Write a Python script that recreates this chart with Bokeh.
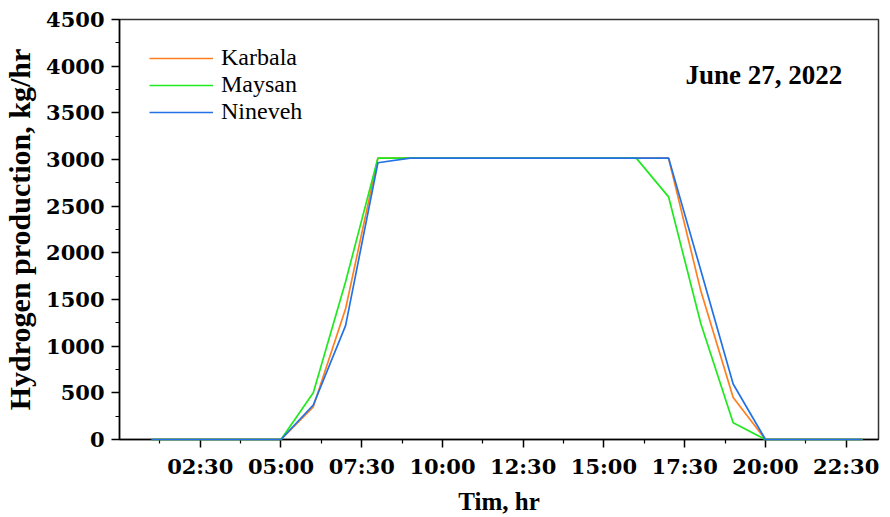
from bokeh.plotting import figure
from bokeh.models import (FixedTicker, Legend, LegendItem, Label, Range1d, ColumnDataSource)
from bokeh.embed import file_html
from bokeh.resources import INLINE

# ---- data ----
hours = [1, 2, 3, 4, 5, 6, 7, 8, 9, 10, 11, 12, 13, 14, 15, 16, 17, 18, 19, 20, 21, 22, 23]
karbala = [0, 0, 0, 0, 0, 350, 1400, 3015, 3015, 3015, 3015, 3015, 3015, 3015, 3015, 3015, 3015, 1590, 450, 0, 0, 0, 0]
maysan = [0, 0, 0, 0, 0, 500, 1690, 3015, 3015, 3015, 3015, 3015, 3015, 3015, 3015, 3015, 2600, 1240, 180, 0, 0, 0, 0]
nineveh = [0, 0, 0, 0, 0, 370, 1220, 2965, 3015, 3015, 3015, 3015, 3015, 3015, 3015, 3015, 3015, 1810, 595, 0, 0, 0, 0]

x_ticks = [2.5, 5.0, 7.5, 10.0, 12.5, 15.0, 17.5, 20.0, 22.5]
x_tick_labels = ["02:30", "05:00", "07:30", "10:00", "12:30", "15:00", "17:30", "20:00", "22:30"]
x_minor = [1.25, 3.75, 6.25, 8.75, 11.25, 13.75, 16.25, 18.75, 21.25]
y_ticks = [0, 500, 1000, 1500, 2000, 2500, 3000, 3500, 4000, 4500]
y_minor = [250, 750, 1250, 1750, 2250, 2750, 3250, 3750, 4250]

series_names = ["Karbala", "Maysan", "Nineveh"]
series_cols = ["karbala", "maysan", "nineveh"]
series_colors = ["#FF7F1E", "#1EEA1E", "#2272E6"]

date_text = "June 27, 2022"
x_title = "Tim, hr"
y_title = "Hydrogen production, kg/hr"

# ---- figure ----
p = figure(width=874, height=508, output_backend="svg", toolbar_location=None,
           x_range=Range1d(0, 23.5), y_range=Range1d(0, 4500),
           frame_width=759, frame_height=420,
           min_border_left=113, min_border_right=2, min_border_top=19, min_border_bottom=60)
p.grid.visible = False
p.outline_line_color = "#333333"
p.outline_line_width = 1.5
p.background_fill_color = "white"
p.border_fill_color = "white"

src = ColumnDataSource(dict(h=hours, karbala=karbala, maysan=maysan, nineveh=nineveh))
renderers = []
for col, color in zip(series_cols, series_colors):
    r = p.line("h", col, source=src, line_color=color, line_width=1.7, level="annotation")
    renderers.append(r)

tick_font = "DejaVu Serif"
for ax in (p.xaxis[0], p.yaxis[0]):
    ax.axis_line_color = "black"
    ax.axis_line_width = 1.5
    ax.major_tick_line_color = "black"
    ax.major_tick_line_width = 1.5
    ax.minor_tick_line_color = "black"
    ax.minor_tick_line_width = 1.2
    ax.major_tick_out = 8
    ax.major_tick_in = 0
    ax.minor_tick_out = 4
    ax.minor_tick_in = 0
    ax.major_label_text_font = tick_font
    ax.major_label_text_font_style = "bold"
    ax.major_label_text_font_size = "21px"
    ax.major_label_text_color = "black"
    ax.axis_label_text_font = "Liberation Serif"
    ax.axis_label_text_font_style = "bold"
    ax.axis_label_text_color = "black"

p.xaxis[0].ticker = FixedTicker(ticks=x_ticks, minor_ticks=x_minor)
p.xaxis[0].major_label_overrides = {t: l for t, l in zip(x_ticks, x_tick_labels)}
p.xaxis[0].major_label_standoff = 6
p.xaxis[0].axis_label = x_title
p.xaxis[0].axis_label_text_font_size = "25px"
p.xaxis[0].axis_label_standoff = 6

p.yaxis[0].ticker = FixedTicker(ticks=y_ticks, minor_ticks=y_minor)
p.yaxis[0].major_label_overrides = {t: str(t) for t in y_ticks}
p.yaxis[0].major_label_standoff = 7
p.yaxis[0].axis_label = y_title
p.yaxis[0].axis_label_text_font_size = "30px"
p.yaxis[0].axis_label_standoff = 7

legend = Legend(items=[LegendItem(label=n, renderers=[r]) for n, r in zip(series_names, renderers)])
legend.location = (30, 314)
legend.border_line_color = None
legend.background_fill_alpha = 0
legend.label_text_font = "Liberation Serif"
legend.label_text_font_size = "24px"
legend.label_text_color = "black"
legend.glyph_width = 64
legend.glyph_height = 20
legend.label_standoff = 8
legend.label_height = 20
legend.spacing = 0
legend.padding = 0
legend.margin = 0
p.add_layout(legend)

p.add_layout(Label(x=19.95, y=3910, text=date_text, text_align="center", text_baseline="middle",
                   text_font="Liberation Serif", text_font_style="bold", text_font_size="27px",
                   text_color="black"))

open("out.html", "w").write(file_html(p, INLINE))
